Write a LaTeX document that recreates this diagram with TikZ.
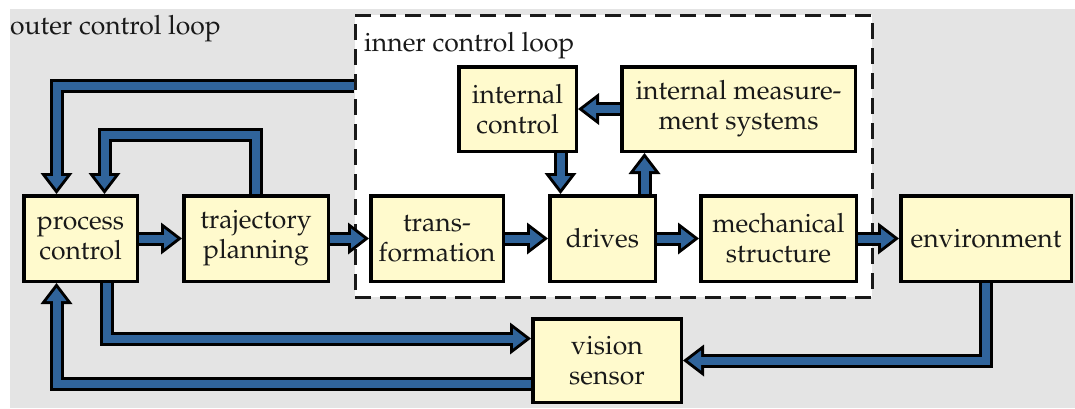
\documentclass[tikz,border=0pt]{standalone}
\usepackage[T1]{fontenc}
\usepackage{mathpazo}
\usetikzlibrary{arrows.meta}

\definecolor{flowblue}{RGB}{48,100,155}
\definecolor{boxyellow}{RGB}{255,250,205}
\definecolor{bggray}{RGB}{228,228,228}
\definecolor{inkgray}{RGB}{25,25,25}

\newcommand{\boxfont}{\fontsize{26.5}{30}\selectfont}

\pgfdeclarelayer{back}
\pgfdeclarelayer{flow}
\pgfsetlayers{back,flow,main}

\tikzset{
  block/.style={draw=black, line width=3.5pt, fill=boxyellow, text=inkgray,
    align=center, inner sep=0pt, minimum height=85.5pt, font=\boxfont},
  innerbox/.style={draw=inkgray, line width=3pt, dash pattern=on 16pt off 9pt,
    fill=white, inner sep=0pt},
  looplabel/.style={text=inkgray, inner sep=0pt, font=\boxfont},
  fat/.style={draw=flowblue, line width=8pt, line join=miter, shorten >=5pt,
    -{Triangle[length=13pt, width=20pt, line width=0pt]},
    preaction={draw=black, line width=14pt, shorten >=0pt,
      -{Triangle[length=21pt, width=32pt, line width=0pt]}}}
}

\begin{document}
\begin{tikzpicture}[x=1pt, y=-1pt]
\useasboundingbox (0,0) rectangle (1075,408);

\begin{pgfonlayer}{back}
    \fill[white] (0,0) rectangle (1075,408);
    \fill[bggray] (10,9) rectangle (1075,408);
    \node[innerbox, minimum width=517pt, minimum height=282pt] (inner) at (613.5,156) {};
\end{pgfonlayer}

% labels of the two loops
\node[looplabel, anchor=base west] (outerlbl) at (10,34) {outer control loop};
\node[looplabel, anchor=base west] (innerlbl) at (364,51) {inner control loop};

% blocks
\node[block, minimum width=113.5pt] (pc)  at (80.5,238.5)  {process\\control};
\node[block, minimum width=144.5pt] (tp)  at (256,238.5)   {trajectory\\planning};
\node[block, minimum width=132.5pt] (tf)  at (437,238.5)   {trans-\\formation};
\node[block, minimum width=105.5pt] (dr)  at (602.5,238.5) {drives};
\node[block, minimum width=155.5pt] (ms)  at (778.5,238.5) {mechanical\\structure};
\node[block, minimum width=170.5pt] (env) at (986,238.5)   {environment};
\node[block, minimum width=148.5pt, minimum height=83.5pt] (vs) at (607,360.5) {vision\\sensor};
\node[block, minimum width=117.5pt, minimum height=84.5pt] (ic)  at (517.5,109) {internal\\control};
\node[block, minimum width=233.5pt, minimum height=84.5pt] (ims) at (738.5,109) {internal measure-\\ment systems};

\begin{pgfonlayer}{flow}
    % forward chain
    \draw[fat] (pc) -- (tp);
    \draw[fat] (tp) -- (tf);
    \draw[fat] (tf) -- (dr);
    \draw[fat] (dr) -- (ms);
    \draw[fat] (ms) -- (env);
    % inner loop
    \draw[fat] (ims) -- (ic);
    \draw[fat] ([xshift=43pt]ic.south) -- ([xshift=43pt]ic.south |- dr.north);
    \draw[fat] ([xshift=42pt]dr.north) -- ([xshift=42pt]dr.north |- ims.south);
    % sensor paths
    \draw[fat] (env.south) |- (vs.east);
    \draw[fat] ([xshift=26pt]pc.south) |- ([yshift=22pt]vs.west);
    \draw[fat] ([yshift=-23pt]vs.west) -| ([xshift=-24pt]pc.south);
    % feedback into process control
    \draw[fat] (tp.north) -- ++(0,-59) -| ([xshift=24pt]pc.north);
    \draw[fat] ([yshift=70pt]inner.west) -| ([xshift=-24pt]pc.north);
\end{pgfonlayer}
\end{tikzpicture}
\end{document}
